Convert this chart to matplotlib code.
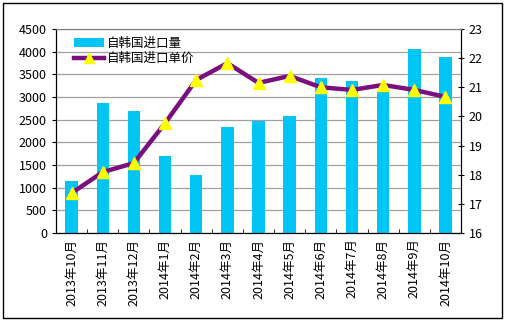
import matplotlib.pyplot as plt
from matplotlib.patches import Rectangle

plt.rcParams['font.family'] = ['Noto Sans CJK SC', 'DejaVu Sans']

# ---- données
mois = ['2013年10月', '2013年11月', '2013年12月', '2014年1月', '2014年2月', '2014年3月',
        '2014年4月', '2014年5月', '2014年6月', '2014年7月', '2014年8月', '2014年9月',
        '2014年10月']
quantite = [1150, 2860, 2690, 1700, 1280, 2340, 2470, 2580, 3410, 3350, 3110, 4060, 3880]
prix = [17.37, 18.09, 18.40, 19.77, 21.25, 21.83, 21.15, 21.39, 21.0, 20.91, 21.08, 20.91, 20.67]

fig = plt.figure(figsize=(5.05, 3.21), dpi=100)
ax = fig.add_axes([56/505, 1 - 233/321, (461-56)/505, (233-29)/321])
ax2 = ax.twinx()

x = list(range(len(mois)))
ax.bar(x, quantite, width=0.4, color='#00C5F5', label='自韩国进口量', zorder=2)
ax2.plot(x, prix, color='#7B0F7E', lw=3.2, marker='^', markersize=8,
         markerfacecolor='#FFFF00', markeredgecolor='#FFFF00', label='自韩国进口单价', zorder=3)

ax.set_ylim(0, 4500)
ax.set_yticks(range(0, 4501, 500))
ax2.set_ylim(16, 23)
ax2.set_yticks(range(16, 24))
ax.set_xlim(-0.5, len(mois) - 0.5)
ax.set_xticks(x)
ax.set_xticklabels(mois, rotation=90, fontsize=9)
ax.set_xticks([i + 0.5 for i in x[:-1]], minor=True)
ax.tick_params(axis='x', which='major', length=0, pad=4)
ax.tick_params(axis='x', which='minor', length=3, direction='in')
ax.tick_params(axis='y', labelsize=9, length=3, direction='out')
ax2.tick_params(axis='y', labelsize=9, length=4, direction='inout')

ax.grid(axis='y', color='#a0a0a0', lw=0.9, zorder=0)
ax.set_axisbelow(True)
for a in (ax, ax2):
    a.spines['top'].set_color('#808080')
    a.spines['left'].set_color('black')
    a.spines['right'].set_color('black')
    a.spines['bottom'].set_color('black')

h1, l1 = ax.get_legend_handles_labels()
h2, l2 = ax2.get_legend_handles_labels()
ax2.legend(h1 + h2, l1 + l2, loc='upper left', frameon=False, fontsize=9,
           bbox_to_anchor=(0.025, 1.0), handlelength=2.4, borderaxespad=0.2,
           labelspacing=0.2, handletextpad=0.3, markerscale=0.9)

fig.patches.append(Rectangle((3/505, 3/321), 499/505, 315/321, transform=fig.transFigure,
                             fill=False, edgecolor='black', lw=1))

fig.savefig('out.png', dpi=100)
